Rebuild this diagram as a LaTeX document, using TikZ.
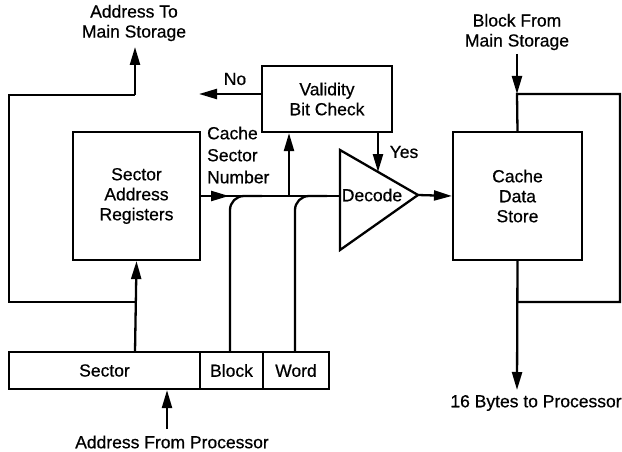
\documentclass[tikz,border=0pt]{standalone}
\usepackage{fontspec}
\setmainfont{Liberation Sans}[FakeBold=0.6]
\usetikzlibrary{arrows.meta}
\begin{document}
\begin{tikzpicture}[x=1pt,y=-1pt,
  line width=2.3pt, line join=miter,
  arr/.style={-{Triangle[length=18pt,width=10pt]}},
  box/.style={draw, line width=2.2pt, inner sep=0pt},
  lbl/.style={font=\fontsize{17.5pt}{20pt}\selectfont, align=center, inner sep=0pt},
  every node/.style={font=\fontsize{17.5pt}{20pt}\selectfont}]
\useasboundingbox (0,0) rectangle (622,452);
% boxes
\node[box, minimum width=127pt, minimum height=128pt, lbl] (sar) at (136.5,196) {Sector\\Address\\Registers};
\node[box, minimum width=130pt, minimum height=66pt, lbl] (vbc) at (327,99) {Validity\\Bit Check};
\node[box, minimum width=129pt, minimum height=128pt, lbl] (cds) at (517.5,196) {Cache\\Data\\Store};
% address register bar
\node[box, minimum width=191pt, minimum height=37pt, lbl] (sec) at (104.5,370.5) {Sector};
\node[box, minimum width=63pt, minimum height=37pt, lbl] (blk) at (231.5,370.5) {Block};
\node[box, minimum width=66pt, minimum height=37pt, lbl] (wrd) at (296,370.5) {Word};
% decode triangle
\coordinate (dtl) at (340,150);
\coordinate (dbl) at (340,250);
\coordinate (dtip) at (418,195);
\draw (dtl) -- (dtip) -- (dbl) -- cycle;
\node[lbl] (dec) at (372,195) {Decode};
% labels
\node[lbl] (ats) at (134,23) {Address To\\Main Storage};
\node[lbl] (bfm) at (517,32) {Block From\\Main Storage};
\node[lbl, align=left, anchor=west, font=\fontsize{17.5pt}{22pt}\selectfont] (csn) at (206,155) {Cache\\Sector\\Number};
\node[lbl] (no) at (235,79) {No};
\node[lbl] (yes) at (404,152) {Yes};
\node[lbl] (afp) at (172,442) {Address From Processor};
\node[lbl] (btp) at (536,403) {16 Bytes to Processor};
% coordinates
\coordinate (lt) at (9,95);
\coordinate (lb) at (9,302);
\coordinate (ltr) at (135,95);
\coordinate (lbr) at (135,302);
\coordinate (atsa) at (135,47);
\coordinate (rt) at (620,94);
\coordinate (rb) at (620,302);
\coordinate (rtl) at (517,94);
\coordinate (rbl) at (517,302);
\coordinate (bfma) at (517,54);
\coordinate (btpa) at (517,390);
\coordinate (noa) at (199,94);
\coordinate (busE) at (340,196);
\coordinate (busV) at (289,196);
\coordinate (busA) at (229,196);
\coordinate (afpa) at (167,429);
% left loop
\draw (lbr) -- (lb) -- (lt) -- (ltr);
\draw[arr] (ltr) -- (atsa);
\draw[arr] (135,352) -- (sar.south);
% no arrow
\draw[arr] (vbc.west |- noa) -- (noa);
% bus
\draw (sar.east |- busE) -- (busE);
\draw[arr] (sar.east |- busE) -- (busA);
\draw[arr] (busV) -- (vbc.south -| busV);
\draw[rounded corners=14pt] (blk.north -| 230,0) -- (230,196) -- (262,196);
\draw[rounded corners=14pt] (wrd.north -| 295,0) -- (295,196) -- (327,196);
% yes arrow
\draw[arr] (vbc.south -| 378,0) -- (378,172);
% decode to cache
\draw[arr] (dtip) -- (cds.west);
% right loop
\draw (cds.north) -- (rtl) -- (rt) -- (rb) -- (rbl);
\draw[arr] (bfma) -- (rtl);
\draw[arr] (cds.south) -- (btpa);
% from processor
\draw[arr] (afpa) -- (sec.south -| afpa);
\end{tikzpicture}
\end{document}
